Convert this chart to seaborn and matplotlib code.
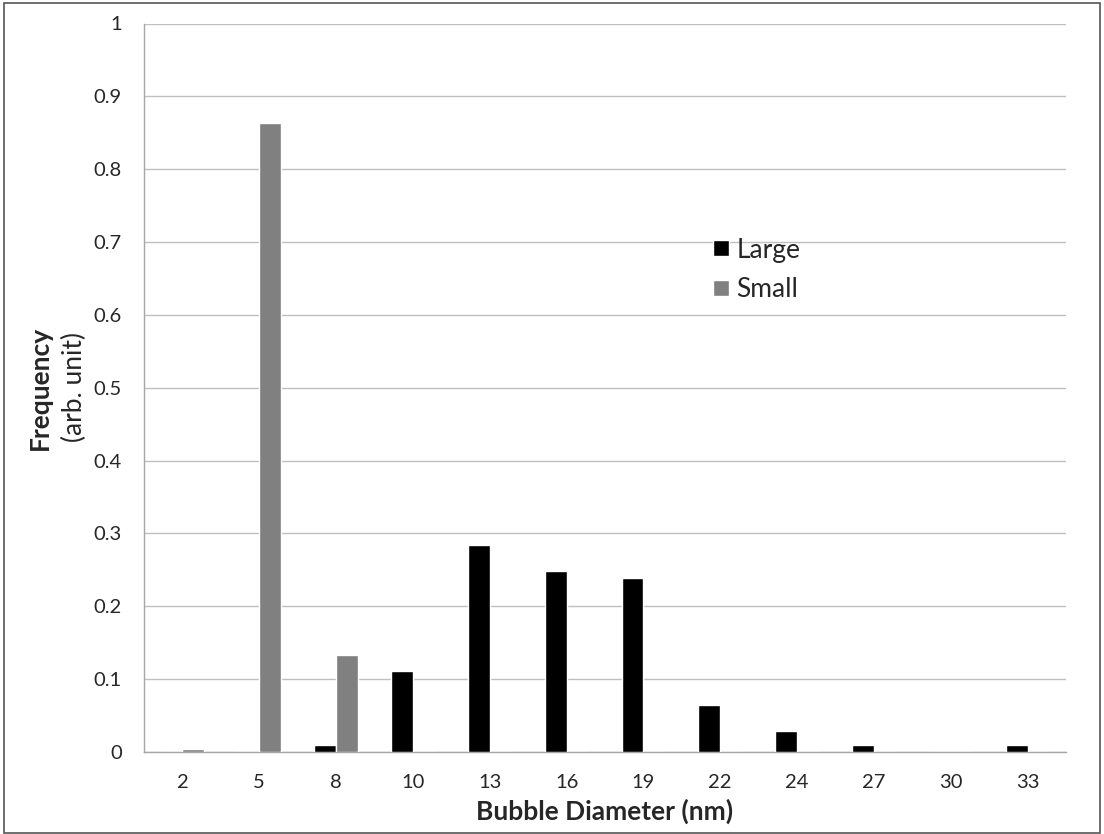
import matplotlib
matplotlib.use("Agg")
import matplotlib.pyplot as plt
import seaborn as sns
import pandas as pd
import numpy as np
from matplotlib.patches import Rectangle

categories = ["2", "5", "8", "10", "13", "16", "19", "22", "24", "27", "30", "33"]
large = [0.0, 0.0, 0.0095, 0.111, 0.284, 0.248, 0.239, 0.0645, 0.029, 0.0092, 0.0, 0.0092]
small = [0.0045, 0.863, 0.133, 0.0, 0.0, 0.0, 0.0, 0.0, 0.0, 0.0, 0.0, 0.0]
series_names = ["Large", "Small"]
colors = ["#000000", "#808080"]
yticks = [0, 0.1, 0.2, 0.3, 0.4, 0.5, 0.6, 0.7, 0.8, 0.9, 1]
ytick_labels = ["0", "0.1", "0.2", "0.3", "0.4", "0.5", "0.6", "0.7", "0.8", "0.9", "1"]

df = pd.DataFrame({
    "Diameter": categories * 2,
    "Frequency": large + small,
    "Series": [series_names[0]] * len(categories) + [series_names[1]] * len(categories),
})

sns.set_style("white")
plt.rcParams["font.family"] = ["Lato", "DejaVu Sans"]

fig = plt.figure(figsize=(11.04, 8.34), dpi=100)
ax = fig.add_axes([144 / 1104, 1 - 752 / 834, (1066 - 144) / 1104, (752 - 23.5) / 834])

sns.barplot(data=df, x="Diameter", y="Frequency", hue="Series", order=categories,
            hue_order=series_names, palette=colors, width=0.57, saturation=1,
            ax=ax, legend=True, zorder=3)

ax.set_ylim(0, 1)
ax.set_xlim(-0.5, len(categories) - 0.5)
ax.set_yticks(yticks)
ax.set_yticklabels(ytick_labels, fontsize=14.5)
ax.tick_params(axis="x", which="major", length=0, labelsize=14.5, pad=16)
ax.set_xticks(np.arange(-0.5, len(categories), 1.0), minor=True)
ax.tick_params(axis="x", which="minor", length=5, width=1, color="#A6A6A6", direction="out")
ax.tick_params(axis="y", length=5, width=1, color="#A6A6A6", direction="out", pad=11)
ax.yaxis.grid(True, color="#BFBFBF", linewidth=1, zorder=0)
ax.set_axisbelow(True)
for s in ["top", "right"]:
    ax.spines[s].set_visible(False)
for s in ["left", "bottom"]:
    ax.spines[s].set_color("#A6A6A6")
    ax.spines[s].set_linewidth(1)

ax.set_xlabel("Bubble Diameter (nm)", fontsize=19, fontweight="bold", labelpad=5)
ax.set_ylabel("")
fig.text(40 / 1104, 1 - 388 / 834, "Frequency", rotation=90, fontsize=19, fontweight="bold",
         ha="center", va="center")
fig.text(74 / 1104, 1 - 387 / 834, "(arb. unit)", rotation=90, fontsize=19,
         ha="center", va="center")

leg = ax.legend(loc="upper left", bbox_to_anchor=(0.617, 0.706), frameon=False,
                fontsize=19, handlelength=0.6, handleheight=0.555, handletextpad=0.3,
                labelspacing=0.55, borderpad=0, borderaxespad=0, title=None)

fig.patches.append(Rectangle((4 / 1104, 1 / 834), 1096 / 1104, 830 / 834, transform=fig.transFigure,
                             fill=False, edgecolor="#555555", linewidth=1.2))

fig.savefig("out.png", dpi=100)
